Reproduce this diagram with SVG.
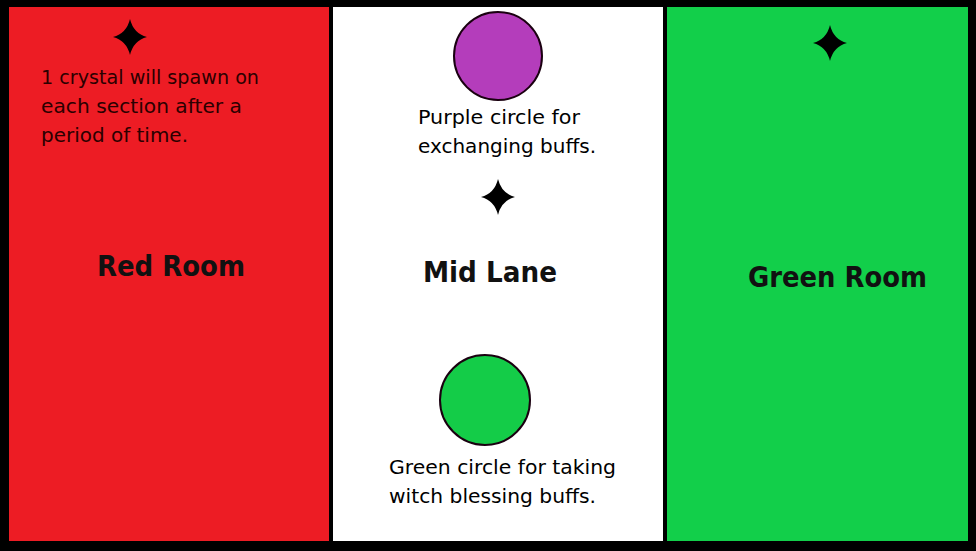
<svg xmlns="http://www.w3.org/2000/svg" width="976" height="551" viewBox="0 0 976 551">
<style>
.note{font-family:"DejaVu Sans","Liberation Sans",sans-serif;font-size:19px;}
.title{font-family:"DejaVu Sans","Liberation Sans",sans-serif;font-size:29px;font-weight:bold;fill:#111;}
.star{fill:#000;}
.circ{stroke:#1a0010;stroke-width:2;}
</style>
<defs>
<path id="star" d="M0,-18 Q3.5,-3.5 17,0 Q3.5,3.5 0,18 Q-3.5,3.5 -17,0 Q-3.5,-3.5 0,-18Z"/>
</defs>
<rect x="0" y="0" width="976" height="551" fill="#000"/>
<g id="red-room">
<rect x="9" y="7" width="320" height="534" fill="#ED1C24"/>
<use href="#star" class="star" x="130" y="37"/>
<text class="note" fill="#2b0000"><tspan x="41" y="84" textLength="218" lengthAdjust="spacingAndGlyphs">1 crystal will spawn on</tspan><tspan x="41" y="113" textLength="201" lengthAdjust="spacingAndGlyphs">each section after a</tspan><tspan x="41" y="142" textLength="147" lengthAdjust="spacingAndGlyphs">period of time.</tspan></text>
<text class="title" x="97" y="276" textLength="148" lengthAdjust="spacingAndGlyphs">Red Room</text>
</g>
<g id="mid-lane">
<rect x="333" y="7" width="330" height="534" fill="#FFFFFF"/>
<text class="title" x="423" y="282" textLength="134" lengthAdjust="spacingAndGlyphs">Mid Lane</text>
<use href="#star" class="star" x="498" y="197"/>
</g>
<g id="purple-circle">
<circle class="circ" cx="498" cy="56" r="44" fill="#B43DBB"/>
<text class="note" fill="#000"><tspan x="418" y="124" textLength="162" lengthAdjust="spacingAndGlyphs">Purple circle for</tspan><tspan x="418" y="153" textLength="178" lengthAdjust="spacingAndGlyphs">exchanging buffs.</tspan></text>
</g>
<g id="green-circle">
<circle class="circ" cx="485" cy="400" r="45" fill="#14CC48"/>
<text class="note" fill="#000"><tspan x="389" y="474" textLength="227" lengthAdjust="spacingAndGlyphs">Green circle for taking</tspan><tspan x="389" y="503" textLength="207" lengthAdjust="spacingAndGlyphs">witch blessing buffs.</tspan></text>
</g>
<g id="green-room">
<rect x="667" y="7" width="301" height="534" fill="#12CF4A"/>
<use href="#star" class="star" x="830" y="43"/>
<text class="title" x="748" y="287" textLength="179" lengthAdjust="spacingAndGlyphs">Green Room</text>
</g>
<g id="connectors"></g>
</svg>
